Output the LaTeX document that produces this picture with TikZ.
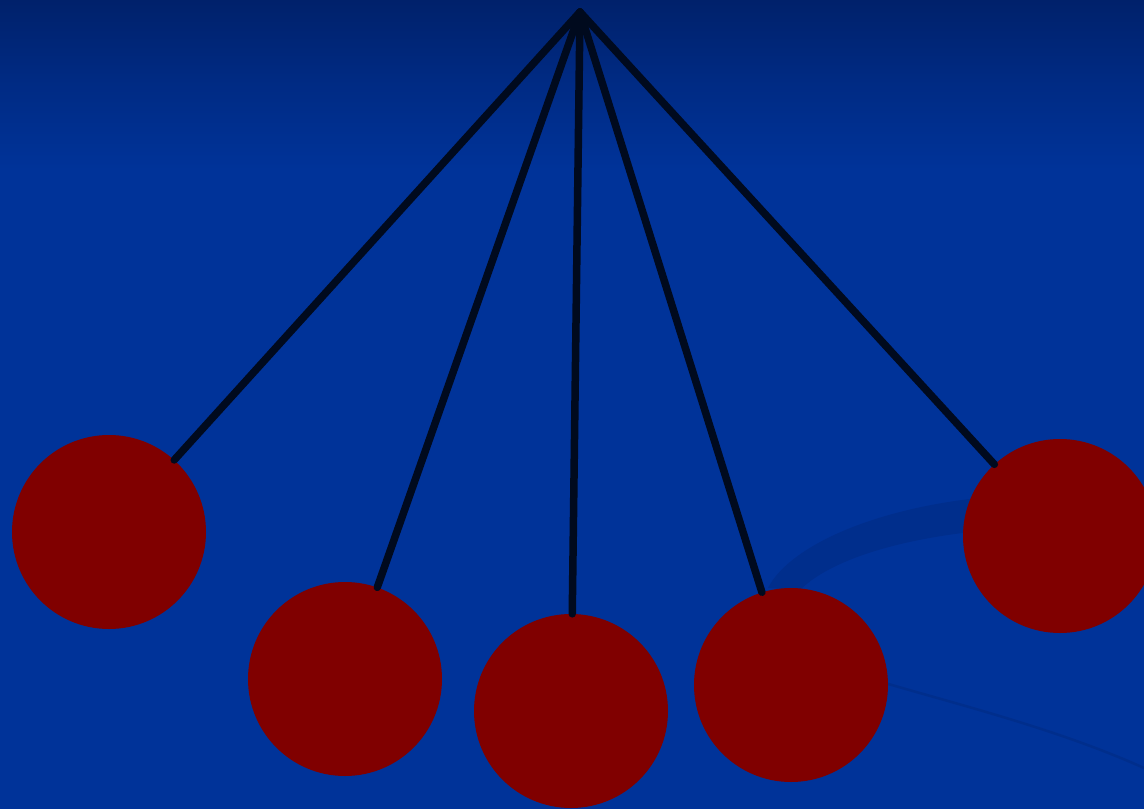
\documentclass[tikz,border=0pt]{standalone}
\begin{document}
\begin{tikzpicture}[x=1pt,y=-1pt,
  ball/.style={circle,fill=ballred,minimum size=194pt,inner sep=0pt},
  cord/.style={line width=7.5pt,draw=cordblack,line cap=round}]
\definecolor{bg}{HTML}{003399}
\definecolor{bgtop}{HTML}{00216B}
\definecolor{ballred}{HTML}{800000}
\definecolor{cordblack}{HTML}{000A1E}
\definecolor{swoosh}{HTML}{002E8C}
\useasboundingbox (0,0) rectangle (1144,809);
\fill[bg] (0,0) rectangle (1144,809);
\shade[top color=bgtop,bottom color=bg,middle color=bgtop!45!bg] (0,0) rectangle (1144,170);
% swoosh
\fill[swoosh] (768,588) .. controls (790,545) and (880,505) .. (1000,496)
  -- (990,530) .. controls (900,538) and (830,560) .. (800,590) -- cycle;
\draw[swoosh,line width=2.5pt] (885,683) .. controls (960,705) and (1060,730) .. (1144,768);
% pivot and balls
\coordinate (p) at (580,12);
\node[ball] (b1) at (109,532) {};
\node[ball] (b2) at (345,679) {};
\node[ball] (b3) at (571,711) {};
\node[ball] (b4) at (791,685) {};
\node[ball] (b5) at (1060,536) {};
\foreach \b in {b1,b2,b3,b4,b5} \draw[cord] (p) -- (\b);
\end{tikzpicture}
\end{document}
